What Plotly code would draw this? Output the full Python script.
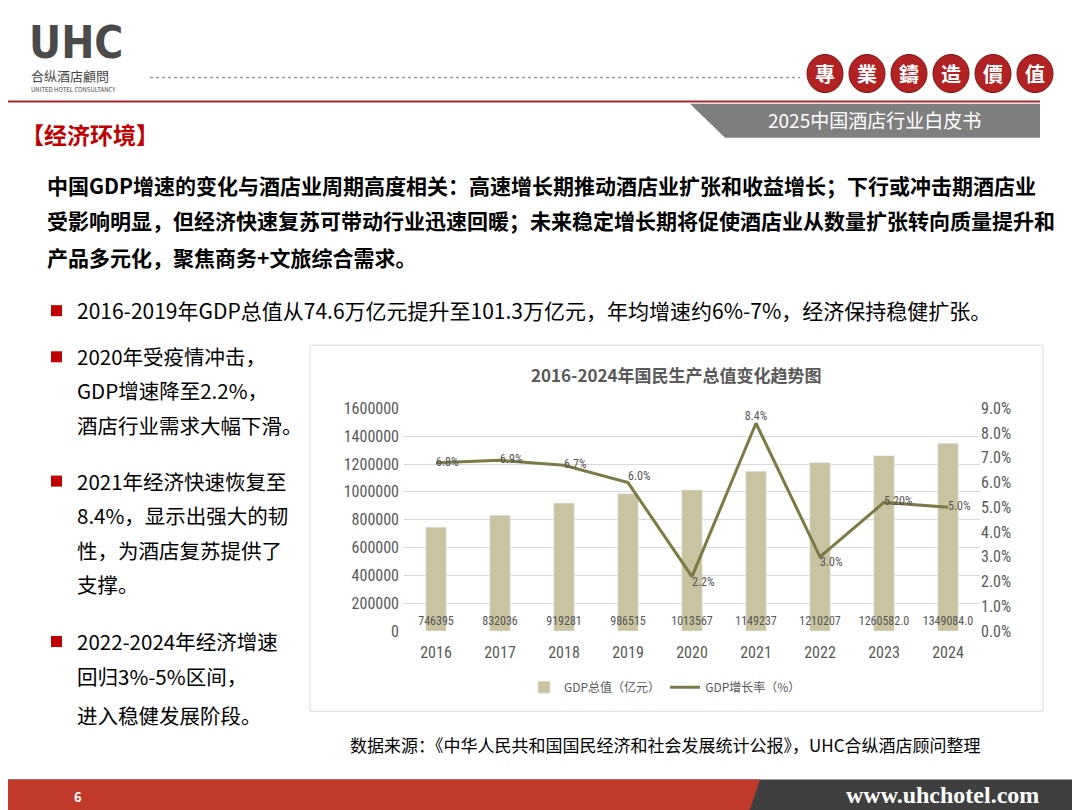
import plotly.graph_objects as go

years = ["2016", "2017", "2018", "2019", "2020", "2021", "2022", "2023", "2024"]
gdp = [746395, 832036, 919281, 986515, 1013567, 1149237, 1210207, 1260582.0, 1349084.0]
gdp_labels = ["746395", "832036", "919281", "986515", "1013567", "1149237", "1210207", "1260582.0", "1349084.0"]
growth = [6.8, 6.9, 6.7, 6.0, 2.2, 8.4, 3.0, 5.2, 5.0]
growth_labels = ["6.8%", "6.9%", "6.7%", "6.0%", "2.2%", "8.4%", "3.0%", "5.20%", "5.0%"]
growth_pos = ["middle right", "middle right", "middle right", "top right", "bottom right",
              "top center", "bottom right", "middle right", "middle right"]

W, H = 1080, 810
FONT = "Noto Sans CJK SC"
NUM = "Roboto Condensed, Noto Sans CJK SC"


# target-pixel -> paper coords (small correction for the page offset seen in render)
def px(x):
    return (x - 8) / W


def py(y):
    return 1 - ((y - 19.6) / 0.974) / H


fig = go.Figure()
fig.add_trace(go.Bar(x=years, y=gdp, name="GDP总值（亿元）", marker_color="#c9c3a1", width=0.32,
                     hoverinfo="y"))
fig.add_trace(go.Scatter(x=years, y=[62000] * len(years), mode="text", text=gdp_labels,
                         showlegend=False, hoverinfo="skip",
                         textfont=dict(size=12, color="#555555", family=NUM)))
fig.add_trace(go.Scatter(x=years, y=growth, name="GDP增长率（%）", yaxis="y2",
                         mode="lines+text", line=dict(color="#7b7a44", width=3),
                         text=growth_labels, textposition=growth_pos,
                         textfont=dict(size=12, color="#555555", family=NUM)))

shapes = [
    dict(type="line", xref="paper", yref="paper", x0=px(0), x1=px(1040), y0=py(104), y1=py(104),
         line=dict(color="#a52a2a", width=2)),
    dict(type="path", xref="paper", yref="paper",
         path=f"M {px(690)},{py(106)} L {px(1040)},{py(106)} L {px(1040)},{py(140)} L {px(725)},{py(140)} Z",
         fillcolor="#7f7f7f", line=dict(width=0)),
    dict(type="line", xref="paper", yref="paper", x0=px(150), x1=px(800), y0=py(80), y1=py(80),
         line=dict(color="#999999", width=1.5, dash="dot")),
    dict(type="rect", xref="paper", yref="paper", x0=px(310), x1=px(1043), y0=py(347), y1=py(712),
         line=dict(color="#d9d9d9", width=1)),
    dict(type="rect", xref="paper", yref="paper", x0=px(0), x1=1.02, y0=-0.02, y1=py(780),
         fillcolor="#3f3f3f", line=dict(width=0)),
    dict(type="path", xref="paper", yref="paper",
         path=f"M {px(0)},{py(780)} L {px(760)},{py(780)} L {px(745)},-0.02 L {px(0)},-0.02 Z",
         fillcolor="#c0392b", line=dict(width=0)),
]
for i in range(6):
    cx = 825 + i * 42
    shapes.append(dict(type="circle", xref="paper", yref="paper",
                       x0=px(cx - 18), x1=px(cx + 18), y0=py(95), y1=py(57),
                       fillcolor="#b22222", line=dict(color="#7a1010", width=1)))
for y in [312, 358, 482, 642]:
    shapes.append(dict(type="rect", xref="paper", yref="paper", x0=px(51), x1=px(62),
                       y0=py(y - 5), y1=py(y + 6), fillcolor="#c00000", line=dict(width=0)))

ann = []


def txt(x, y, s, size=16, color="#000000", anchor="left", bold=False, family=FONT):
    ann.append(dict(xref="paper", yref="paper", x=px(x), y=py(y), text=f"<b>{s}</b>" if bold else s,
                    showarrow=False, xanchor=anchor, yanchor="middle", borderpad=0,
                    font=dict(size=size, color=color, family=family)))


txt(28, 45, "UHC", 44, "#4a4a4a", bold=True, family="DejaVu Sans Condensed")
txt(30, 78, "合纵酒店顧問", 13, "#444444")
txt(30, 92, "UNITED HOTEL CONSULTANCY", 6, "#444444")
for i, ch in enumerate("專業鑄造價值"):
    txt(825 + i * 42, 76, ch, 20, "#ffffff", anchor="center", bold=True)
txt(982, 122, "2025中国酒店行业白皮书", 19, "#ffffff", anchor="right")
txt(20, 136, "【经济环境】", 23, "#c00000", bold=True)
txt(46, 187, "中国GDP增速的变化与酒店业周期高度相关：高速增长期推动酒店业扩张和收益增长；下行或冲击期酒店业", 21, bold=True)
txt(46, 222, "受影响明显，但经济快速复苏可带动行业迅速回暖；未来稳定增长期将促使酒店业从数量扩张转向质量提升和", 21, bold=True)
txt(46, 259, "产品多元化，聚焦商务+文旅综合需求。", 21, bold=True)
txt(76, 312, "2016-2019年GDP总值从74.6万亿元提升至101.3万亿元，年均增速约6%-7%，经济保持稳健扩张。", 21)
left_lines = [(358, "2020年受疫情冲击，"), (392, "GDP增速降至2.2%，"), (427, "酒店行业需求大幅下滑。"),
              (482, "2021年经济快速恢复至"), (516, "8.4%，显示出强大的韧"), (551, "性，为酒店复苏提供了"),
              (585, "支撑。"), (642, "2022-2024年经济增速"), (677, "回归3%-5%区间，"), (716, "进入稳健发展阶段。")]
for y, s in left_lines:
    txt(76, y, s, 20.5)
txt(676, 376, "2016-2024年国民生产总值变化趋势图", 17, "#595959", anchor="center", bold=True)
txt(665, 745, "数据来源：《中华人民共和国国民经济和社会发展统计公报》，UHC合纵酒店顾问整理", 17, "#000000", anchor="center")
txt(78, 797, "6", 13, "#ffffff", anchor="center", bold=True)
txt(1040, 796, "www.uhchotel.com", 24, "#ffffff", anchor="right", bold=True, family="Liberation Serif")

fig.update_layout(
    width=W, height=H, margin=dict(l=0, r=0, t=0, b=0),
    paper_bgcolor="white", plot_bgcolor="white",
    font=dict(family=FONT, color="#595959"),
    shapes=shapes, annotations=ann, bargap=0.5, hovermode="closest",
    xaxis=dict(domain=[px(404), px(980)], anchor="y", tickfont=dict(size=16, family=NUM),
               showline=False, ticks="", ticklabelstandoff=10),
    yaxis=dict(domain=[py(632), py(410)], range=[0, 1600000], dtick=200000, tickformat="d",
               gridcolor="#d9d9d9", tickfont=dict(size=16, family=NUM),
               zeroline=True, zerolinecolor="#d9d9d9", ticklabelstandoff=4),
    yaxis2=dict(overlaying="y", side="right", range=[0, 9], dtick=1, ticksuffix="%",
                tickformat=".1f", showgrid=False, tickfont=dict(size=16, family=NUM)),
    legend=dict(orientation="h", x=px(665), xanchor="center", y=py(688), yanchor="middle",
                font=dict(size=12, color="#595959")),
)

fig.write_html("out.html")
